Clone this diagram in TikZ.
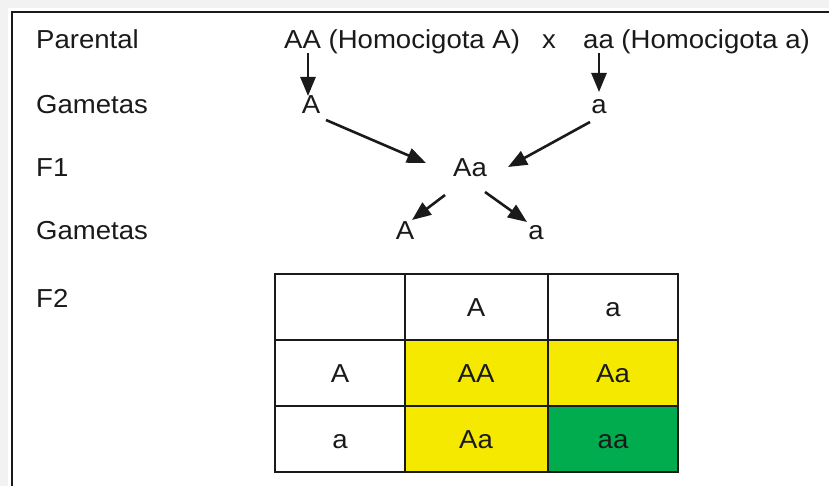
\documentclass[tikz,border=0pt]{standalone}
\usepackage{fontspec}
\setmainfont[FakeStretch=1.06]{Liberation Sans}
\usetikzlibrary{arrows.meta}
\definecolor{txt}{HTML}{1A1A1A}
\definecolor{pyellow}{HTML}{F5E900}
\definecolor{pgreen}{HTML}{00AC4E}
\definecolor{bggray}{HTML}{F2F2F2}
\tikzset{
  txtfont/.style={inner sep=0pt, text=txt, font=\fontsize{26}{28}\selectfont},
  lbl/.style={txtfont, anchor=base west},
  ctr/.style={txtfont, anchor=base},
  arr/.style={line width=2.6pt, draw=txt, -{Triangle[length=19pt,width=15pt]}},
  cell/.style={draw=txt, line width=2.5pt},
}
\begin{document}
\begin{tikzpicture}[x=1pt,y=-1pt]
\useasboundingbox (0,0) rectangle (829,486);
\fill[white] (0,0) rectangle (829,486);
\fill[bggray] (0,0) rectangle (829,8);
\fill[bggray] (0,0) rectangle (8,486);
\draw[line width=2pt, draw=txt] (12,486) -- (12,12) -- (829,12);

% left labels
\node[lbl] (lP) at (36,49) {Parental};
\node[lbl] (lG1) at (36,114) {Gametas};
\node[lbl] (lF1) at (36,177) {F1};
\node[lbl] (lG2) at (36,240) {Gametas};
\node[lbl] (lF2) at (36,307) {F2};

% parental line
\node[lbl] (pA) at (284,49) {AA (Homocigota A)};
\node[ctr] (px) at (549,49) {x};
\node[lbl] (pa) at (583,49) {aa (Homocigota a)};

% gametes
\node[ctr] (gA) at (311,114) {A};
\node[ctr] (ga) at (599,114) {a};
\node[ctr] (f1) at (470,177) {Aa};
\node[ctr] (g2A) at (405,240) {A};
\node[ctr] (g2a) at (536,240) {a};

% arrow endpoints
\coordinate (s1) at (308,53);
\coordinate (e1) at (308,96);
\coordinate (s2) at (599,53);
\coordinate (e2) at (599,92);
\coordinate (s3) at (326,120);
\coordinate (e3) at (426,163);
\coordinate (s4) at (590,122);
\coordinate (e4) at (508,167);
\coordinate (s5) at (445,195);
\coordinate (e5) at (412,220);
\coordinate (s6) at (485,192);
\coordinate (e6) at (527,222);
\draw[arr] (s1) -- (e1);
\draw[arr] (s2) -- (e2);
\draw[arr] (s3) -- (e3);
\draw[arr] (s4) -- (e4);
\draw[arr] (s5) -- (e5);
\draw[arr] (s6) -- (e6);

% Punnett square
\fill[pyellow] (405,340) rectangle (548,472);
\fill[pyellow] (548,340) rectangle (678,406);
\fill[pgreen] (548,406) rectangle (678,472);
\draw[cell] (275,274) rectangle (678,472);
\draw[cell] (405,274) -- (405,472);
\draw[cell] (548,274) -- (548,472);
\draw[cell] (275,340) -- (678,340);
\draw[cell] (275,406) -- (678,406);

\node[ctr] (h1) at (476,316) {A};
\node[ctr] (h2) at (613,316) {a};
\node[ctr] (r1) at (340,382) {A};
\node[ctr] (r2) at (340,448) {a};
\node[ctr] (c11) at (476,382) {AA};
\node[ctr] (c12) at (613,382) {Aa};
\node[ctr] (c21) at (476,448) {Aa};
\node[ctr] (c22) at (613,448) {aa};
\end{tikzpicture}
\end{document}
